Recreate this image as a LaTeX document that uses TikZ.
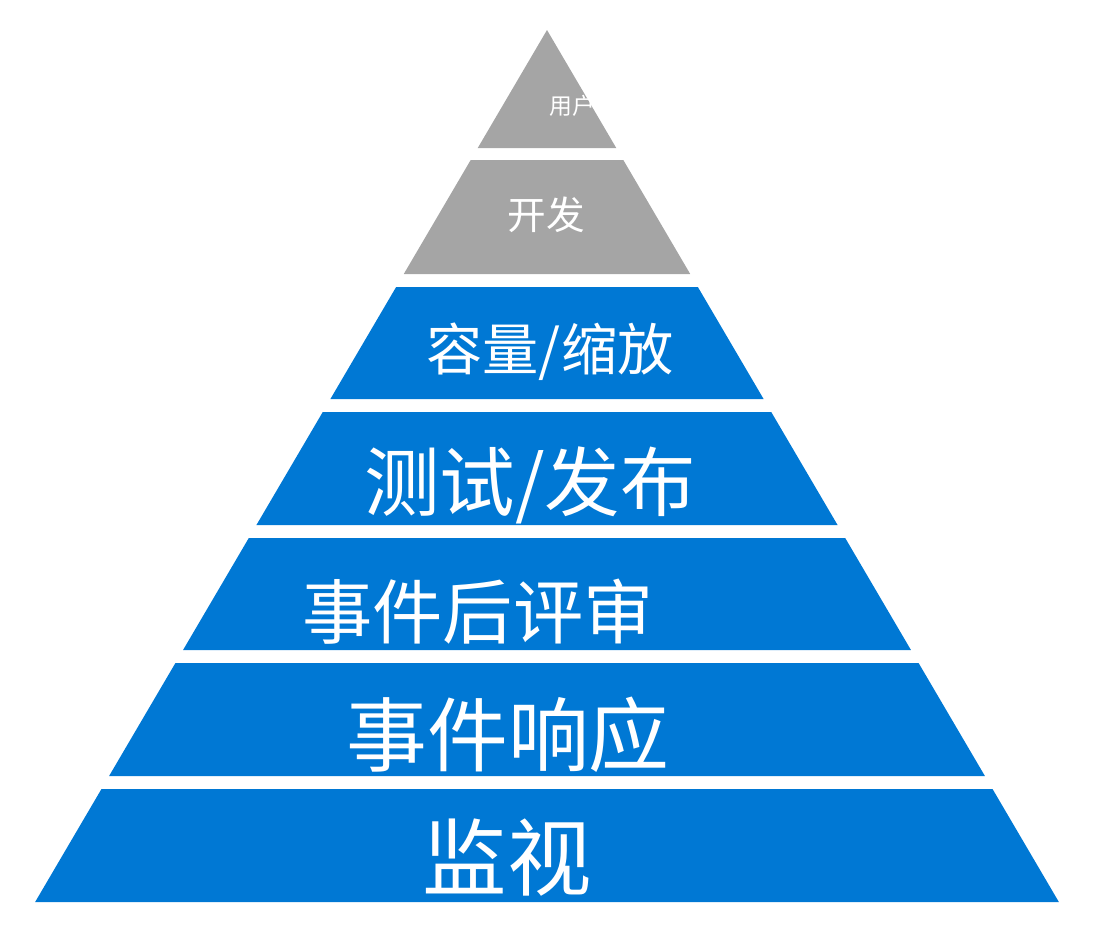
\documentclass[tikz,border=0pt]{standalone}
\usepackage{fontspec}
\newfontfamily\cjk{Noto Sans CJK SC}
\definecolor{azblue}{RGB}{0,120,212}
\definecolor{azgray}{RGB}{165,165,165}
\tikzset{
  label/.style={text=white, font=\cjk, inner sep=0pt}
}

\begin{document}
\begin{tikzpicture}[x=0.02cm, y=-0.02cm]
\useasboundingbox (0,0) rectangle (1102,941);

% layers: top y / bottom y / colour
\foreach \t/\b/\c in {30/148/azgray, 160/274/azgray, 287/399/azblue, 412/525/azblue, 538/650/azblue, 663/776/azblue, 789/902/azblue}{
  \pgfmathsetmacro{\wt}{0.587*(\t-30)}
  \pgfmathsetmacro{\wb}{0.587*(\b-30)}
  \fill [\c] (547-\wt,\t) -- (547+\wt,\t) -- (547+\wb,\b) -- (547-\wb,\b) -- cycle;
}

\node [label, font=\cjk\fontsize{13}{13}\selectfont] (ux) at (595,106) {用户体验};
\node [label, font=\cjk\fontsize{22}{22}\selectfont] (dev) at (546,215) {开发};
\node [label, font=\cjk\fontsize{32}{32}\selectfont] (cap) at (550,352) {容量/缩放};
\node [label, font=\cjk\fontsize{43}{43}\selectfont] (test) at (530,485) {测试/发布};
\node [label, font=\cjk\fontsize{40}{40}\selectfont] (pir) at (478,612) {事件后评审};
\node [label, font=\cjk\fontsize{46}{46}\selectfont] (ir) at (508,735) {事件响应};
\node [label, font=\cjk\fontsize{48}{48}\selectfont] (mon) at (507,858) {监视};
\end{tikzpicture}
\end{document}
